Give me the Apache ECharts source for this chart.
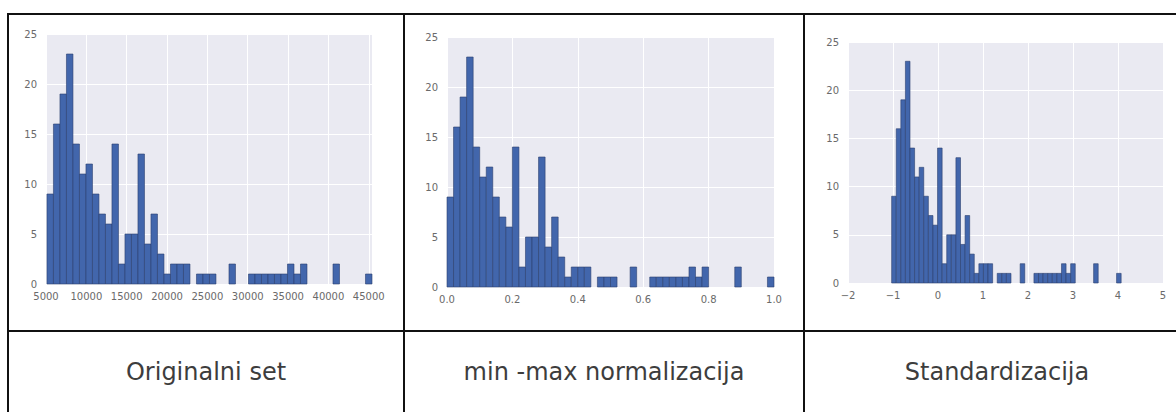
<!DOCTYPE html>
<html>
<head>
    <meta charset="utf-8">
    <title>Histogrami</title>
    <script src="https://cdn.jsdelivr.net/npm/echarts@6/dist/echarts.min.js"></script>
    <style>
        html, body { margin: 0; padding: 0; background: #fff; }
        #main { width: 1176px; height: 412px; }
    </style>
</head>
<body>
    <div id="main"></div>
<script type="text/javascript">
    // broj uzoraka po binu (50 binova), isti za sva tri prikaza
    var counts = [9, 16, 19, 23, 14, 11, 12, 9, 7, 6,
                  14, 2, 5, 5, 13, 4, 7, 3, 1, 2,
                  2, 2, 0, 1, 1, 1, 0, 0, 2, 0,
                  0, 1, 1, 1, 1, 1, 1, 2, 1, 2,
                  0, 0, 0, 0, 2, 0, 0, 0, 0, 1];

    // raspon podataka (prvi i zadnji rub binova) za svaki prikaz
    var rangeOriginal = [5118, 45400];
    var rangeMinMax = [0, 1];
    var rangeStandard = [-1.03, 4.07];

    // osi
    var xAxisOriginal = { min: 5000, max: 45400, interval: 5000 };
    var xAxisMinMax = { min: 0, max: 1, interval: 0.2 };
    var xAxisStandard = { min: -2, max: 5, interval: 1 };
    var yAxisAll = { min: 0, max: 25, interval: 5 };

    var captions = ['Originalni set', 'min -max normalizacija', 'Standardizacija'];

    function bins(range) {
        var w = (range[1] - range[0]) / counts.length;
        var out = [];
        counts.forEach(function (c, i) {
            if (c > 0) out.push([range[0] + i * w, range[0] + (i + 1) * w, c]);
        });
        return out;
    }

    function renderBar(params, api) {
        var p0 = api.coord([api.value(0), api.value(2)]);
        var p1 = api.coord([api.value(1), 0]);
        return {
            type: 'rect',
            shape: { x: p0[0], y: p0[1], width: p1[0] - p0[0], height: p1[1] - p0[1] },
            style: { fill: '#4266ac', stroke: '#2b3f6e', lineWidth: 0.6 }
        };
    }

    var labelStyle = { color: '#6a6a6a', fontSize: 10, fontFamily: 'DejaVu Sans' };

    function xAxis(idx, ax, fmt) {
        return {
            gridIndex: idx, type: 'value',
            min: ax.min, max: ax.max, interval: ax.interval,
            axisLine: { show: false }, axisTick: { show: false },
            splitLine: { show: true, lineStyle: { color: '#ffffff', width: 1 } },
            axisLabel: Object.assign({ margin: 7, showMaxLabel: ax.max % ax.interval === 0 || ax.max === 1, formatter: fmt }, labelStyle)
        };
    }

    function yAxis(idx) {
        return {
            gridIndex: idx, type: 'value',
            min: yAxisAll.min, max: yAxisAll.max, interval: yAxisAll.interval,
            axisLine: { show: false }, axisTick: { show: false },
            splitLine: { show: true, lineStyle: { color: '#ffffff', width: 1 } },
            axisLabel: Object.assign({ margin: 9 }, labelStyle)
        };
    }

    var gridBase = { show: true, backgroundColor: '#eaeaf2', borderWidth: 0 };

    var line = { stroke: '#111', lineWidth: 2 };
    var captionFont = '24px "DejaVu Sans"';

    var chart = echarts.init(document.getElementById('main'), null, { renderer: 'svg' });
    chart.setOption({
        backgroundColor: '#fff',
        animation: false,
        grid: [
            Object.assign({ left: 46, top: 34, width: 326, height: 250 }, gridBase),
            Object.assign({ left: 447, top: 37, width: 327, height: 250 }, gridBase),
            Object.assign({ left: 848, top: 42, width: 315, height: 241 }, gridBase)
        ],
        xAxis: [
            xAxis(0, xAxisOriginal, function (v) { return String(v); }),
            xAxis(1, xAxisMinMax, function (v) { return v.toFixed(1); }),
            xAxis(2, xAxisStandard, function (v) { return String(v).replace('-', '\u2212'); })
        ],
        yAxis: [yAxis(0), yAxis(1), yAxis(2)],
        series: [
            { type: 'custom', xAxisIndex: 0, yAxisIndex: 0, renderItem: renderBar, encode: { x: [0, 1], y: 2 }, data: bins(rangeOriginal) },
            { type: 'custom', xAxisIndex: 1, yAxisIndex: 1, renderItem: renderBar, encode: { x: [0, 1], y: 2 }, data: bins(rangeMinMax) },
            { type: 'custom', xAxisIndex: 2, yAxisIndex: 2, renderItem: renderBar, encode: { x: [0, 1], y: 2 }, data: bins(rangeStandard) }
        ],
        graphic: [
            // okvir tablice
            { type: 'line', shape: { x1: 8, y1: 14, x2: 1176, y2: 14 }, style: line },
            { type: 'line', shape: { x1: 8, y1: 331, x2: 1176, y2: 331 }, style: line },
            { type: 'line', shape: { x1: 8, y1: 13, x2: 8, y2: 412 }, style: line },
            { type: 'line', shape: { x1: 404, y1: 13, x2: 404, y2: 412 }, style: line },
            { type: 'line', shape: { x1: 804, y1: 13, x2: 804, y2: 412 }, style: line },
            // natpisi
            { type: 'text', x: 206, y: 372, style: { text: captions[0], align: 'center', verticalAlign: 'middle', font: captionFont, fill: '#3d3d3d' } },
            { type: 'text', x: 604, y: 372, style: { text: captions[1], align: 'center', verticalAlign: 'middle', font: captionFont, fill: '#3d3d3d' } },
            { type: 'text', x: 997, y: 372, style: { text: captions[2], align: 'center', verticalAlign: 'middle', font: captionFont, fill: '#3d3d3d' } }
        ]
    });
</script>
</body>
</html>
